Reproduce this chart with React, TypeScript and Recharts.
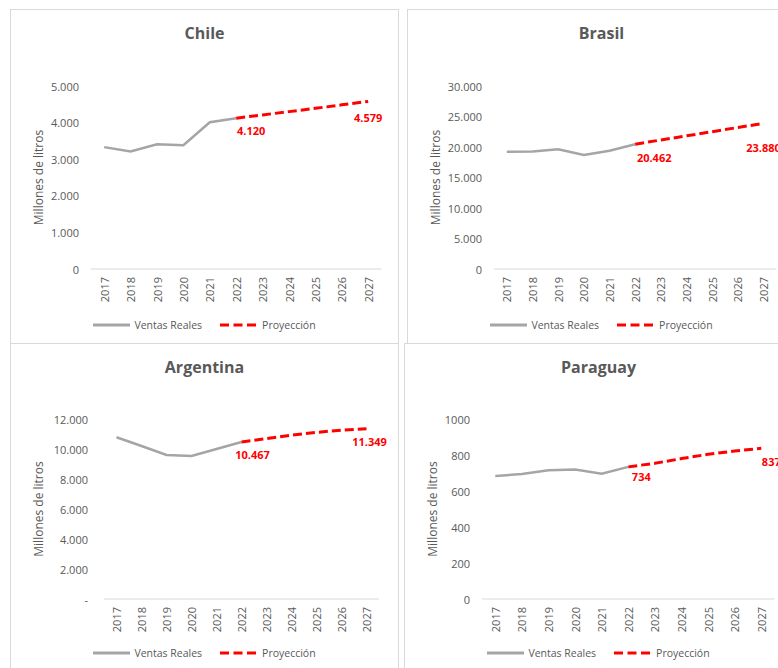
import React from 'react';
import { LineChart, Line, XAxis, YAxis, LabelList, Label } from 'recharts';

// years on the x axis
const years = ['2017', '2018', '2019', '2020', '2021', '2022', '2023', '2024', '2025', '2026', '2027'];

// Chile
const chileReal = [3330, 3210, 3410, 3380, 4010, 4120, null, null, null, null, null];
const chileProj = [null, null, null, null, null, 4120, 4210, 4300, 4390, 4485, 4579];
const chileTicks = [0, 1000, 2000, 3000, 4000, 5000];

// Brasil
const brasilReal = [19230, 19250, 19620, 18690, 19400, 20462, null, null, null, null, null];
const brasilProj = [null, null, null, null, null, 20462, 21150, 21830, 22510, 23200, 23880];
const brasilTicks = [0, 5000, 10000, 15000, 20000, 25000, 30000];

// Argentina
const argentinaReal = [10780, 10200, 9600, 9530, 10000, 10467, null, null, null, null, null];
const argentinaProj = [null, null, null, null, null, 10467, 10690, 10930, 11110, 11260, 11349];
const argentinaTicks = [0, 2000, 4000, 6000, 8000, 10000, 12000];

// Paraguay
const paraguayReal = [683, 694, 715, 720, 696, 734, null, null, null, null, null];
const paraguayProj = [null, null, null, null, null, 734, 754, 780, 804, 822, 837];
const paraguayTicks = [0, 200, 400, 600, 800, 1000];

const GREY = '#A5A5A5';
const RED = '#FF0000';
const TEXT = '#595959';
const BORDER = '#D9D9D9';
const FONT = '"Open Sans", sans-serif';

const dotFormat = (v: number) => String(v).replace(/\B(?=(\d{3})+(?!\d))/g, '.');
const dashFormat = (v: number) => (v === 0 ? '-' : dotFormat(v));
const plainFormat = (v: number) => String(v);

const CHART_W = 387;
const CHART_H = 320;

interface PanelProps {
  title: string;
  real: (number | null)[];
  proj: (number | null)[];
  ticks: number[];
  format: (v: number) => string;
  left: number;
  top: number;
  height: number;
  plotTop: number;
  plotBottom: number;
  yWidth: number;
  rightMargin: number;
  tickGap: number;
  legendTop: number;
  labelOffsets: { [index: number]: [number, number] };
}

const Panel: React.FC<PanelProps> = (p) => {
  const data = years.map((year, i) => ({ year, real: p.real[i], proj: p.proj[i] }));
  const max = p.ticks[p.ticks.length - 1];
  // Excel puts each year in the middle of its band
  const band = (CHART_W - p.yWidth - p.rightMargin) / years.length;

  const renderLabel = (props: any) => {
    const { x, y, value, index } = props;
    const off = p.labelOffsets[index];
    if (value == null || !off) return null;
    return (
      <text
        x={x + off[0]}
        y={y + off[1]}
        textAnchor="middle"
        dominantBaseline="central"
        fill={RED}
        fontWeight="bold"
        fontSize={11}
        fontFamily={FONT}
      >
        {dotFormat(value)}
      </text>
    );
  };

  return (
    <div
      style={{
        position: 'absolute',
        left: p.left,
        top: p.top,
        width: 389,
        height: p.height,
        boxSizing: 'border-box',
        borderLeft: `1px solid ${BORDER}`,
        borderRight: `1px solid ${BORDER}`,
        borderTop: `1px solid ${BORDER}`,
        background: '#fff',
      }}
    >
      <div
        style={{
          position: 'absolute',
          left: 0,
          width: CHART_W,
          top: 12,
          textAlign: 'center',
          fontFamily: FONT,
          fontWeight: 'bold',
          fontSize: 16,
          lineHeight: '22px',
          color: TEXT,
        }}
      >
        {p.title}
      </div>
      <div style={{ position: 'absolute', left: 0, top: 0 }}>
        <LineChart
          width={CHART_W}
          height={CHART_H}
          data={data}
          margin={{ top: p.plotTop, right: p.rightMargin, left: 0, bottom: CHART_H - p.plotBottom - 40 }}
          style={{ fontFamily: FONT }}
        >
          <XAxis
            dataKey="year"
            height={40}
            interval={0}
            padding={{ left: band / 2, right: band / 2 }}
            tickLine={false}
            tickSize={0}
            tickMargin={8}
            axisLine={{ stroke: BORDER, strokeWidth: 1 }}
            tick={(t: any) => (
              <text
                x={t.x}
                y={t.y}
                transform={`rotate(-90, ${t.x}, ${t.y})`}
                textAnchor="end"
                dominantBaseline="central"
                fill={TEXT}
                fontSize={11}
                fontFamily={FONT}
              >
                {t.payload.value}
              </text>
            )}
          />
          <YAxis
            width={p.yWidth}
            domain={[0, max]}
            ticks={p.ticks}
            interval={0}
            axisLine={false}
            tickLine={false}
            tickSize={0}
            tickMargin={p.tickGap}
            tick={(t: any) => (
              <text
                x={t.x}
                y={t.y}
                textAnchor="end"
                dominantBaseline="central"
                fill={TEXT}
                fontSize={11}
                fontFamily={FONT}
              >
                {p.format(t.payload.value)}
              </text>
            )}
          >
            <Label
              content={(lp: any) => {
                const vb = lp.viewBox || { y: p.plotTop, height: p.plotBottom - p.plotTop };
                const cy = vb.y + vb.height / 2;
                return (
                  <text
                    x={27}
                    y={cy}
                    transform={`rotate(-90, 27, ${cy})`}
                    textAnchor="middle"
                    dominantBaseline="central"
                    fill={TEXT}
                    fontSize={12}
                    fontFamily={FONT}
                  >
                    Millones de litros
                  </text>
                );
              }}
            />
          </YAxis>
          <Line
            type="linear"
            dataKey="real"
            stroke={GREY}
            strokeWidth={2.5}
            dot={false}
            isAnimationActive={false}
          />
          <Line
            type="linear"
            dataKey="proj"
            stroke={RED}
            strokeWidth={3}
            strokeDasharray="9 4"
            dot={false}
            isAnimationActive={false}
          >
            <LabelList dataKey="proj" content={renderLabel} />
          </Line>
        </LineChart>
      </div>
      <div
        style={{
          position: 'absolute',
          left: 0,
          width: CHART_W,
          top: p.legendTop - 8,
          height: 16,
          display: 'flex',
          justifyContent: 'center',
          alignItems: 'center',
          fontFamily: FONT,
          fontSize: 10.5,
          color: TEXT,
        }}
      >
        <svg width={37} height={6} style={{ marginRight: 4 }}>
          <line x1={0} y1={3} x2={37} y2={3} stroke={GREY} strokeWidth={3} />
        </svg>
        <span>Ventas Reales</span>
        <svg width={36} height={6} style={{ marginLeft: 18, marginRight: 6 }}>
          <line x1={0} y1={3} x2={36} y2={3} stroke={RED} strokeWidth={3} strokeDasharray="9 4.5" />
        </svg>
        <span>Proyección</span>
      </div>
    </div>
  );
};

export default function App() {
  return (
    <div
      style={{
        position: 'fixed',
        left: 0,
        top: 0,
        width: 778,
        height: 668,
        overflow: 'hidden',
        background: '#fff',
      }}
    >
      <Panel
        title="Chile"
        real={chileReal}
        proj={chileProj}
        ticks={chileTicks}
        format={dotFormat}
        left={10}
        top={9}
        height={340}
        plotTop={76}
        plotBottom={259}
        yWidth={80}
        rightMargin={16.6}
        tickGap={12}
        legendTop={315}
        labelOffsets={{ 5: [15, 12.5], 10: [0, 16] }}
      />
      <Panel
        title="Brasil"
        real={brasilReal}
        proj={brasilProj}
        ticks={brasilTicks}
        format={dotFormat}
        left={407}
        top={9}
        height={340}
        plotTop={76}
        plotBottom={259}
        yWidth={86}
        rightMargin={18.6}
        tickGap={12}
        legendTop={315}
        labelOffsets={{ 5: [19, 13], 10: [0, 24] }}
      />
      <Panel
        title="Argentina"
        real={argentinaReal}
        proj={argentinaProj}
        ticks={argentinaTicks}
        format={dashFormat}
        left={10}
        top={343}
        height={340}
        plotTop={75}
        plotBottom={255}
        yWidth={93}
        rightMargin={19}
        tickGap={16}
        legendTop={309}
        labelOffsets={{ 5: [11, 13], 10: [3, 13] }}
      />
      <Panel
        title="Paraguay"
        real={paraguayReal}
        proj={paraguayProj}
        ticks={paraguayTicks}
        format={plainFormat}
        left={404}
        top={343}
        height={340}
        plotTop={75}
        plotBottom={255}
        yWidth={77}
        rightMargin={17.4}
        tickGap={12}
        legendTop={309}
        labelOffsets={{ 5: [13, 10], 10: [10, 13] }}
      />
    </div>
  );
}
